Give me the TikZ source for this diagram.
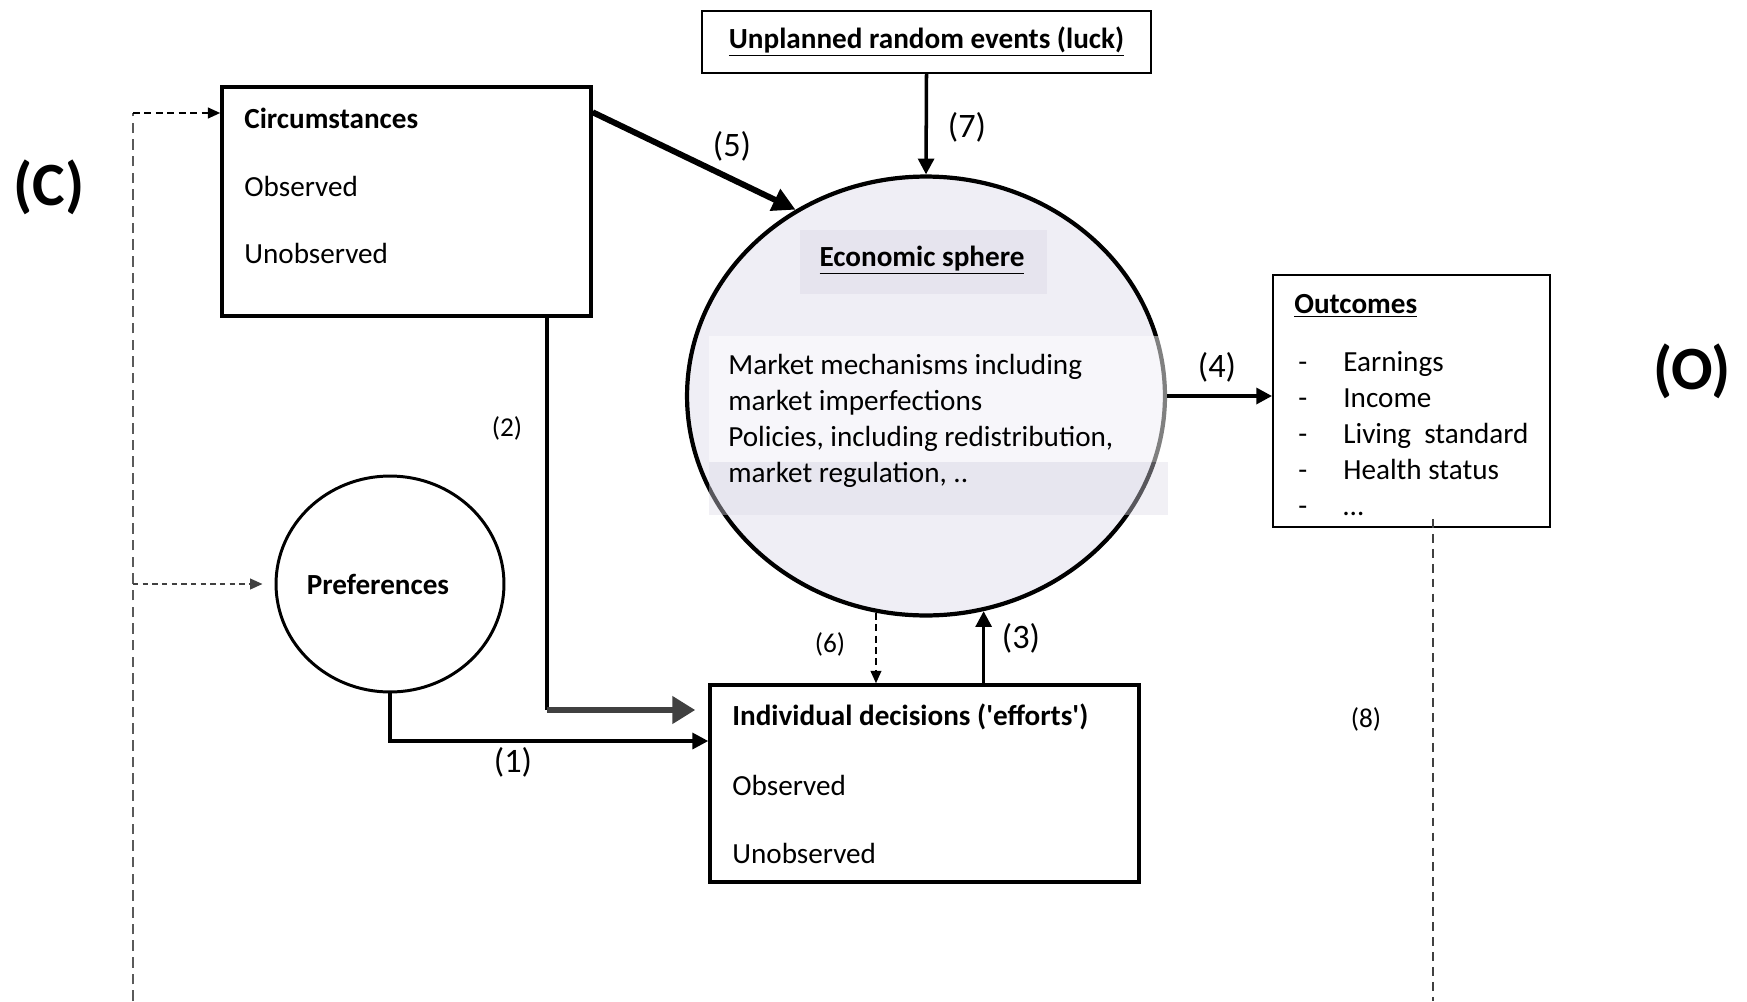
\documentclass[tikz,border=0pt]{standalone}
\usepackage{fontspec}
\setmainfont{Carlito}
\usetikzlibrary{arrows.meta, positioning, shapes.geometric}
\definecolor{spherefill}{HTML}{EFEEF5}
\definecolor{spherehead}{HTML}{E6E4EE}
\definecolor{bandlow}{HTML}{DCDAE6}
\definecolor{linegray}{HTML}{404040}
\definecolor{dashgray}{HTML}{5A5A5A}
\newcommand{\dashitem}[1]{\makebox[0.9cm][l]{-}#1}

\begin{document}
\begin{tikzpicture}[
        x=0.02cm, y=-0.02cm,
        txt/.style={inner sep=0pt, font=\fontsize{16.6}{20.5}\selectfont},
        bigtag/.style={inner sep=0pt, font=\fontsize{35}{40}\selectfont\bfseries},
        numtag/.style={inner sep=0pt, font=\fontsize{19.5}{22}\selectfont},
        smalltag/.style={inner sep=0pt, font=\fontsize{15.5}{18}\selectfont},
        heavybox/.style={rectangle, draw=black, line width=2pt, inner sep=0pt},
        lightbox/.style={rectangle, draw=black, line width=1.1pt, inner sep=0pt},
        bubble/.style={ellipse, draw=black, inner sep=0pt},
        arrow/.style={-{Triangle[length=9pt, width=9pt]}, line width=2pt},
        fatarrow/.style={-{Triangle[length=13pt, width=13pt]}, line width=3.4pt},
        grayarrow/.style={-{Triangle[length=13pt, width=15pt]}, line width=3.6pt, draw=linegray},
        dasharrow/.style={-{Triangle[length=7pt, width=6pt]}, line width=1.1pt, dash pattern=on 4pt off 2.5pt},
        feedback/.style={line width=0.6pt, draw=dashgray, dash pattern=on 6pt off 3.5pt}
    ]
        \useasboundingbox (0,0) rectangle (1747,1001);

        % economic sphere
        \node[bubble, line width=2.4pt, fill=spherefill, minimum width=9.56cm, minimum height=8.78cm] (sphere) at (926,396) {};
        \node[rectangle, fill=spherehead, minimum width=4.94cm, minimum height=1.28cm] (shead) at (923.5,262) {};
        \fill[white, fill opacity=0.5] (709,336) rectangle (1168,462);
        \fill[bandlow, fill opacity=0.4] (709,462) rectangle (1168,515);
        \node[txt] (ehead) at (922,260) {\bfseries\underline{Economic sphere}};
        \node[txt, align=left, anchor=west] (etext) at (728,421) {Market mechanisms including\\market imperfections\\Policies, including redistribution,\\market regulation, ..};

        % boxes
        \node[lightbox, minimum width=8.98cm, minimum height=1.24cm, font=\fontsize{16.6}{20.5}\selectfont\bfseries] (luck) at (926.5,42) {\underline{Unplanned random events (luck)}};
        \node[heavybox, minimum width=7.38cm, minimum height=4.58cm] (circ) at (406.5,201.5) {};
        \node[txt, anchor=west] (ctitle) at (244,118) {\bfseries Circumstances};
        \node[txt, below=1.36cm of ctitle.west, anchor=west] (cobs) {Observed};
        \node[txt, below=1.36cm of cobs.west, anchor=west] (cunobs) {Unobserved};

        \node[bubble, line width=1.7pt, minimum width=4.56cm, minimum height=4.32cm, font=\fontsize{16.6}{20.5}\selectfont\bfseries] (pref) at (390,584) {\kern-0.48cm Preferences};

        \node[heavybox, minimum width=8.58cm, minimum height=3.94cm] (dec) at (924.5,783.5) {};
        \node[txt, anchor=west] (dtitle) at (732,717) {\bfseries Individual decisions (\textquotesingle efforts\textquotesingle)};
        \node[txt, below=1.36cm of dtitle.west, anchor=west] (dobs) {Observed};
        \node[txt, below=1.36cm of dobs.west, anchor=west] (dunobs) {Unobserved};

        \node[lightbox, minimum width=5.54cm, minimum height=5.04cm] (out) at (1411.5,401) {};
        \node[txt, anchor=west] (otitle) at (1294,306) {\bfseries\underline{Outcomes}};
        \node[txt, align=left, anchor=west] (olist) at (1298,433.5) {\dashitem{Earnings}\\\dashitem{Income}\\\dashitem{Living~ standard}\\\dashitem{Health status}\\\dashitem{…}};

        \node[bigtag] (tagC) at (49,187) {(C)};
        \node[bigtag] (tagO) at (1692,371) {(O)};

        % connectors
        \draw[arrow] (luck.south) -- (sphere.north);
        \draw[fatarrow] ([yshift=-0.54cm]circ.north east) -- (sphere.125);
        \draw[arrow, line width=2.2pt] (sphere.east) -- (sphere.east -| out.west);
        \coordinate (bend2) at (547,710);
        \draw[line width=2pt] (circ.south -| bend2) -- (bend2);
        \draw[grayarrow, shorten >=0.26cm] (bend2) -- (bend2 -| dec.west);
        \draw[arrow] (pref.south) |- ([yshift=0.85cm]dec.west);
        \draw[dasharrow] (sphere.257) -- (sphere.257 |- dec.north);
        \draw[arrow] (dec.north -| sphere.285) -- (sphere.285);

        \coordinate (fbtop) at (133,113);
        \coordinate (fbbot) at (133,1001);
        \draw[feedback] (fbbot) -- (fbtop);
        \draw[dasharrow, line width=1.3pt] (fbtop) -- (fbtop -| circ.west);
        \draw[dasharrow, draw=linegray, dash pattern=on 3pt off 2.5pt, shorten >=0.24cm] (fbtop |- pref.west) -- (pref.west);
        \coordinate (o8bot) at (1433,1001);
        \draw[feedback, line width=1pt, draw=linegray, dash pattern=on 5pt off 3.5pt] (out.south -| o8bot) ++(0,-9) -- (o8bot);

        % numbers
        \node[numtag] (n1) at (513,762) {(1)};
        \node[smalltag] (n2) at (507,428) {(2)};
        \node[numtag] (n3) at (1021,638) {(3)};
        \node[numtag] (n4) at (1217,367) {(4)};
        \node[numtag] (n5) at (732,146) {(5)};
        \node[smalltag] (n6) at (830,644) {(6)};
        \node[numtag] (n7) at (967,127) {(7)};
        \node[smalltag] (n8) at (1366,719) {(8)};
    \end{tikzpicture}
\end{document}
